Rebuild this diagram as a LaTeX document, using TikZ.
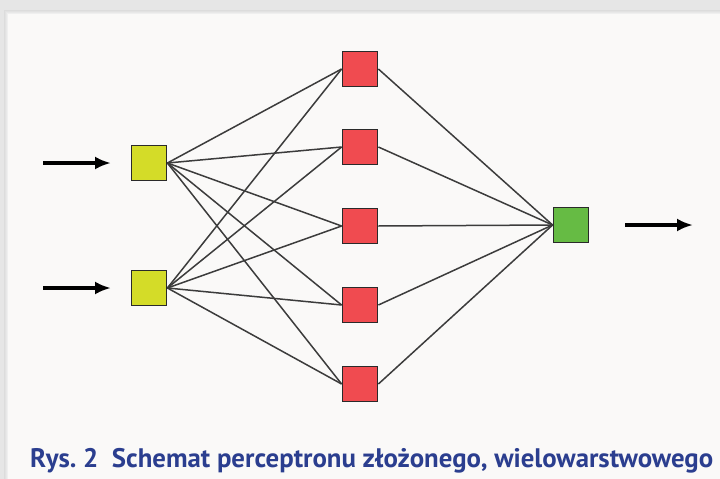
\documentclass[tikz,border=0pt]{standalone}
\usepackage{fontspec}
\setmainfont{PT Sans}
\usetikzlibrary{arrows.meta}
\definecolor{bgout}{HTML}{E6E6E6}
\definecolor{card}{HTML}{FAF9F8}
\definecolor{inyel}{HTML}{D4DC28}
\definecolor{hidred}{HTML}{F04B50}
\definecolor{outgrn}{HTML}{66BB44}
\definecolor{edge}{HTML}{2A2A2A}
\definecolor{conn}{HTML}{3C3C3C}
\definecolor{capblue}{HTML}{2B3E8F}
\definecolor{sh1}{HTML}{DCDCDC}
\definecolor{sh2}{HTML}{E2E2E2}
\definecolor{sh3}{HTML}{E8E8E8}
\definecolor{sh4}{HTML}{EFEFEF}
\tikzset{
  neuron/.style={draw=edge, line width=1.8pt, minimum width=35pt, minimum height=35pt, inner sep=0pt},
  inn/.style={neuron, fill=inyel},
  hid/.style={neuron, fill=hidred},
  outn/.style={neuron, fill=outgrn},
  link/.style={draw=conn, line width=1.5pt},
  sig/.style={line width=3.8pt, -{Latex[length=16pt,width=13pt]}},
}
\frenchspacing
\begin{document}
\begin{tikzpicture}[x=1pt,y=-1pt]
\useasboundingbox (0,0) rectangle (720,479);
\fill[bgout] (0,0) rectangle (720,479);
\fill[sh1] (4,10) rectangle (730,490);
\fill[sh2] (5,11) rectangle (730,490);
\fill[sh3] (6,12) rectangle (730,490);
\fill[sh4] (7,13) rectangle (730,490);
\fill[card] (8,14) rectangle (730,490);
\node[inn] (i1) at (149,163) {};
\node[inn] (i2) at (149,288) {};
\node[hid] (h1) at (360,69) {};
\node[hid] (h2) at (360,147) {};
\node[hid] (h3) at (360,226) {};
\node[hid] (h4) at (360,305) {};
\node[hid] (h5) at (360,384) {};
\node[outn] (o) at (571,225) {};
\foreach \i in {i1,i2}{
  \foreach \h in {h1,h2,h3,h4,h5}{
    \draw[link] (\i.east) -- (\h.west);
  }
}
\foreach \h in {h1,h2,h3,h4,h5}{
  \draw[link] (\h.east) -- (o.west);
}
\coordinate (a1) at (43,163);
\coordinate (a2) at (43,288);
\coordinate (b1) at (111,163);
\coordinate (b2) at (111,288);
\coordinate (c1) at (625,225);
\coordinate (c2) at (693,225);
\draw[sig] (a1) -- (b1);
\draw[sig] (a2) -- (b2);
\draw[sig] (c1) -- (c2);
\node[anchor=base west, inner sep=0pt, text=capblue, font=\fontsize{26.8}{30}\selectfont\bfseries] (cap) at (30,467) {Rys. 2\ \ Schemat perceptronu złożonego, wielowarstwowego};
\end{tikzpicture}
\end{document}
